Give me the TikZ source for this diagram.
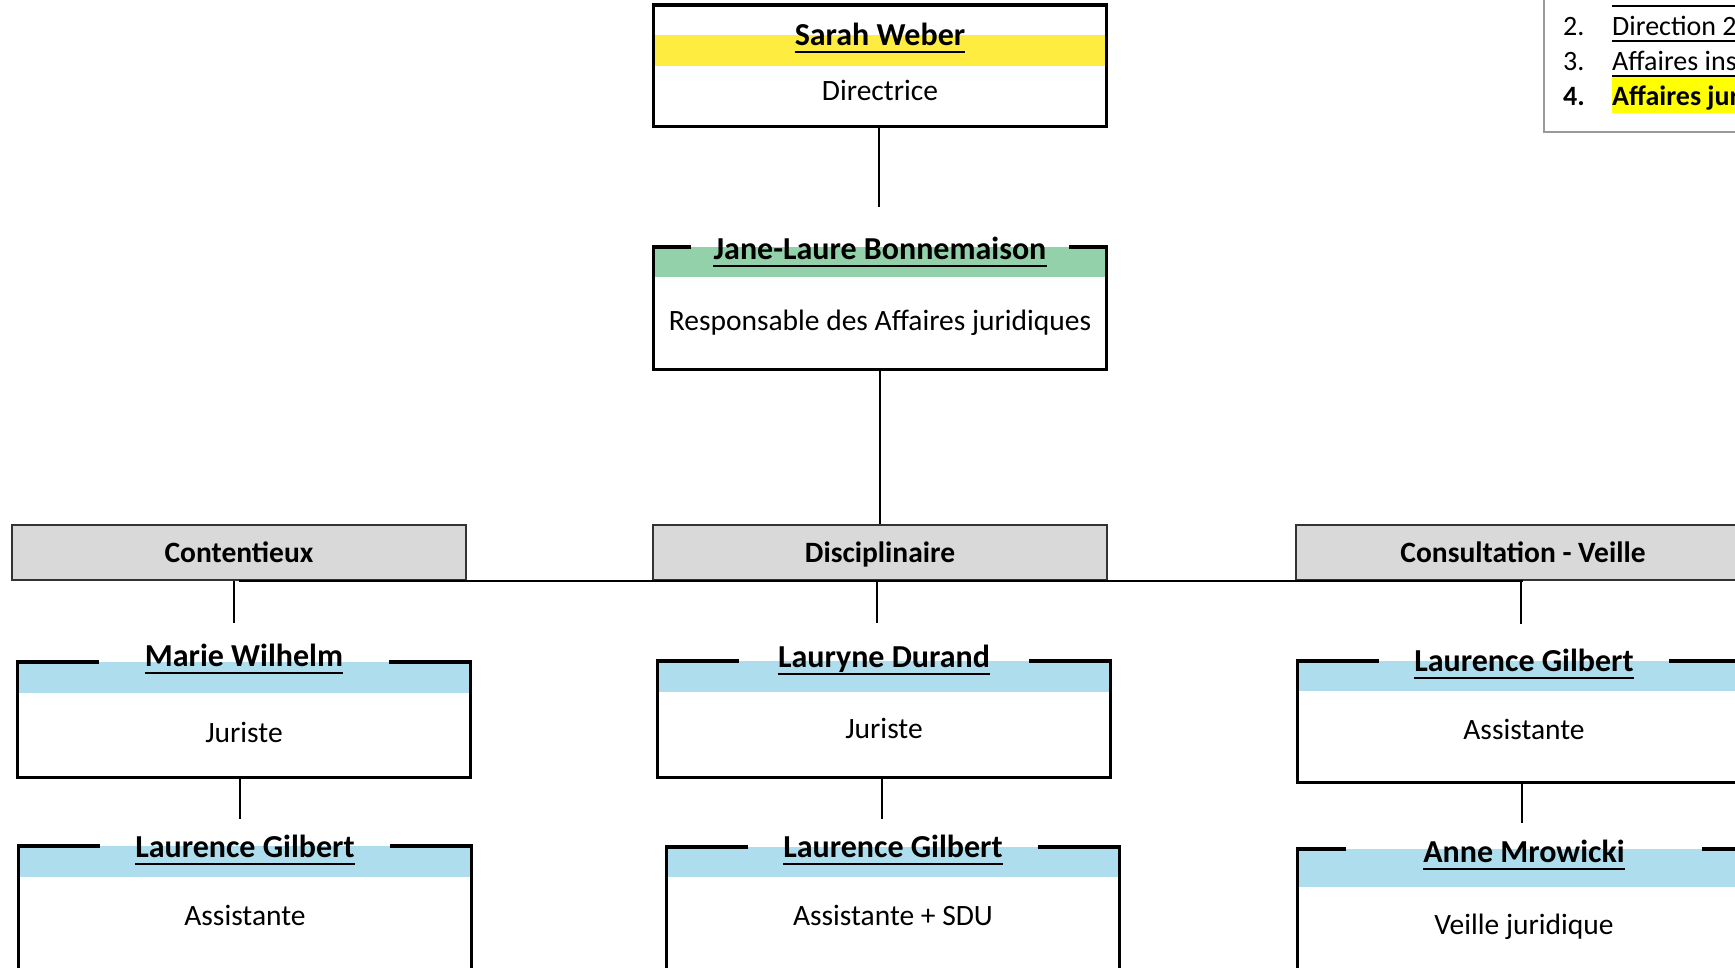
\documentclass[tikz,border=0pt]{standalone}
\usepackage{fontspec}
\setmainfont{Carlito}
\usepackage{tikz}

\definecolor{bandyellow}{RGB}{255,236,64}
\definecolor{bandgreen}{RGB}{146,209,170}
\definecolor{bandblue}{RGB}{174,222,237}
\definecolor{unitgray}{RGB}{217,217,217}
\definecolor{hlyellow}{RGB}{255,255,0}

\tikzset{
  staffbox/.style={rectangle,inner sep=0pt,minimum width=452pt},
  boxline/.style={line width=3.3pt},
  link/.style={line width=2pt},
  uline/.style={line width=2.5pt},
  staffname/.style={inner sep=0pt,font=\fontsize{32}{38}\selectfont\bfseries},
  staffrole/.style={inner sep=0pt,font=\fontsize{29.5}{35}\selectfont},
  unitbox/.style={draw=black!80,fill=unitgray,line width=2pt,minimum width=454pt,
    minimum height=55pt,text height=19pt,text depth=0pt,inner sep=0pt,
    font=\fontsize{29.5}{35}\selectfont\bfseries},
  legendtxt/.style={inner sep=0pt,font=\fontsize{28}{34}\selectfont}
}

\begin{document}
\begin{tikzpicture}[x=1pt,y=-1pt]
  \useasboundingbox (0,0) rectangle (1735,967);
  \fill[white] (0,0) rectangle (1735,967);
  \clip (0,0) rectangle (1735,967);
  \foreach \id/\cx/\ty/\hgt/\bt/\bh/\bandcol/\gw/\nb/\rb/\nm/\job in {
    sarah/880/5/121/30/31/bandyellow/0/40/95/Sarah Weber/Directrice,
    jane/880/247/122/0/30/bandgreen/189/12/83/Jane-Laure Bonnemaison/Responsable des Affaires juridiques,
    marie/244/662/115/0/31/bandblue/145/4/80/Marie Wilhelm/Juriste,
    gilbertA/245/846/160/0/31/bandblue/145/11/79/Laurence Gilbert/Assistante,
    durand/884/661/116/0/31/bandblue/145/6/77/Lauryne Durand/Juriste,
    gilbertB/893/847/160/0/30/bandblue/145/10/78/Laurence Gilbert/Assistante + SDU,
    gilbertC/1524/661/121/0/30/bandblue/145/10/78/Laurence Gilbert/Assistante,
    mrowicki/1524/849/160/0/38/bandblue/178/13/85/Anne Mrowicki/Veille juridique}
  {
    \node[staffbox,minimum height=\hgt pt,anchor=north] (\id) at (\cx,\ty) {};
    \fill[\bandcol] ([yshift=-\bt pt]\id.north west) rectangle ([yshift=-\bt pt-\bh pt]\id.north east);
    \draw[boxline] ([xshift=-\gw pt]\id.north) -- (\id.north west) -- (\id.south west)
      -- (\id.south east) -- (\id.north east) -- ([xshift=\gw pt]\id.north);
    \node[staffname,anchor=base] (\id-n) at ([yshift=-\nb pt]\id.north) {\nm};
    \draw[uline] ([yshift=-7pt]\id-n.base west) -- ([yshift=-7pt]\id-n.base east);
    \node[staffrole,anchor=base] (\id-r) at ([yshift=-\rb pt]\id.north) {\job};
  }
  \foreach \id/\cx/\txt in {cont/239/Contentieux,disc/880/Disciplinaire,consult/1523/Consultation - Veille}
    \node[unitbox] (\id) at (\cx,552.5) {\txt};
  \draw[link] (cont.south) -- (consult.south);
  \draw[link] (jane.south) -- (disc.north);
  \foreach \a/\b/\dx/\cut in {sarah/jane/-1/40,cont/marie/-5/39,disc/durand/-3/38,consult/gilbertC/-2/37,
    marie/gilbertA/-4/27,durand/gilbertB/-2/28,gilbertC/mrowicki/-2/26}
    \draw[link,shorten >=\cut pt] ([xshift=\dx pt]\a.south) -- ([xshift=\dx pt]\a.south |- \b.north);
  \node[draw=black!40,line width=2pt,minimum width=300pt,minimum height=200pt,anchor=south west]
    (legend) at (1543,133) {};
  \draw[line width=2pt] (1612,6) -- (1760,6);
  \fill[hlyellow] (1612,77) rectangle (1760,113);
  \foreach \k/\y/\txt in {2/35/Direction 2,3/70/Affaires institutionnelles}
  {
    \node[legendtxt,anchor=base west] (num\k) at (1563,\y) {\k.};
    \node[legendtxt,anchor=base west] (item\k) at (1612,\y) {\txt};
    \draw[line width=2pt] ([yshift=-6pt]item\k.base west) -- ([yshift=-6pt]item\k.base east);
  }
  \node[legendtxt,anchor=base west] (num4) at (1563,105) {\bfseries 4.};
  \node[legendtxt,anchor=base west] (item4) at (1612,105) {\bfseries Affaires juridiques};
\end{tikzpicture}
\end{document}
